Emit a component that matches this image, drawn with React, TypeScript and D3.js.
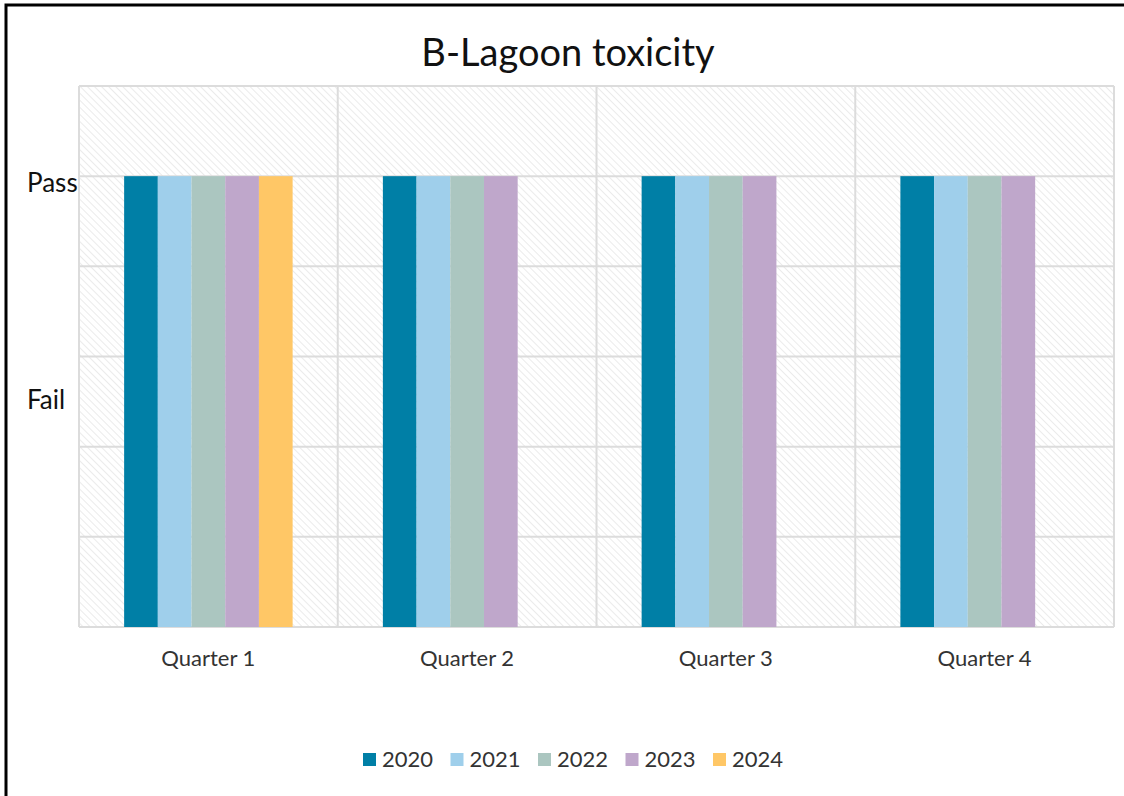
import React from 'react';
import * as d3 from 'd3';

const quarters = ['Quarter 1', 'Quarter 2', 'Quarter 3', 'Quarter 4'];
const years = ['2020', '2021', '2022', '2023', '2024'];
// 5 = Pass, 0 = no result
const values2020 = [5, 5, 5, 5];
const values2021 = [5, 5, 5, 5];
const values2022 = [5, 5, 5, 5];
const values2023 = [5, 5, 5, 5];
const values2024 = [5, 0, 0, 0];
const seriesValues = [values2020, values2021, values2022, values2023, values2024];
const yearColors = ['#007FA6', '#9FCFEB', '#ABC6C0', '#BFA7CB', '#FFC766'];
const yTickLabels = ['Pass', 'Fail'];
const yTickValues = [5, 2.6];

const W = 1124;
const H = 796;
const margin = { top: 86, right: 10, bottom: 169, left: 79 };
const font = 'Lato, "Open Sans", sans-serif';

export default function App() {
  const innerW = W - margin.left - margin.right;
  const innerH = H - margin.top - margin.bottom;

  const x = d3.scaleBand<string>().domain(quarters).range([0, innerW]).paddingInner(0).paddingOuter(0);
  const xInner = d3
    .scaleBand<string>()
    .domain(years)
    .range([0, x.bandwidth()])
    .paddingOuter(45 / 33.6)
    .paddingInner(0);
  const y = d3.scaleLinear().domain([0, 6]).range([innerH, 0]);
  const gridTicks = d3.range(0, 7);

  const legendStep = 87.5;
  const legendStart = 363;

  return (
    <svg
      width={W}
      height={H}
      style={{ position: 'absolute', left: 0, top: 0, background: '#fff' }}
      fontFamily={font}
    >
      <defs>
        <pattern id="hatch" width="5" height="5" patternUnits="userSpaceOnUse" patternTransform="rotate(-45)">
          <line x1="0" y1="0" x2="0" y2="5" stroke="#e6e6e6" strokeWidth="1.6" />
        </pattern>
      </defs>
      <rect x={6} y={5} width={W} height={H} fill="#fff" stroke="#000" strokeWidth={3} />

      <text x={568} y={66} textAnchor="middle" fontSize={38} fill="#111">
        B-Lagoon toxicity
      </text>

      <g transform={`translate(${margin.left},${margin.top})`}>
        <rect x={0} y={0} width={innerW} height={innerH} fill="url(#hatch)" />
        {gridTicks.map(t => (
          <line key={'h' + t} x1={0} x2={innerW} y1={y(t)} y2={y(t)} stroke="#dcdcdc" strokeWidth={2} />
        ))}
        {[...quarters, 'end'].map((q, i) => {
          const xx = i < quarters.length ? (x(q) as number) : innerW;
          return <line key={'v' + i} x1={xx} x2={xx} y1={0} y2={innerH} stroke="#dcdcdc" strokeWidth={2} />;
        })}

        {quarters.map((q, qi) => (
          <g key={q} transform={`translate(${x(q)},0)`}>
            {years.map((yr, si) => {
              const v = seriesValues[si][qi];
              if (!v) return null;
              return (
                <rect
                  key={yr}
                  x={xInner(yr)}
                  y={y(v)}
                  width={xInner.bandwidth()}
                  height={innerH - y(v)}
                  fill={yearColors[si]}
                />
              );
            })}
          </g>
        ))}

        {yTickValues.map((v, i) => (
          <text key={yTickLabels[i]} x={27 - margin.left} y={y(v) + 16} textAnchor="start" fontSize={26} fill="#111">
            {yTickLabels[i]}
          </text>
        ))}

        {quarters.map(q => (
          <text
            key={q}
            x={(x(q) as number) + x.bandwidth() / 2}
            y={innerH + 39}
            textAnchor="middle"
            fontSize={22}
            fill="#333"
          >
            {q}
          </text>
        ))}
      </g>

      <g>
        {years.map((yr, i) => (
          <g key={yr} transform={`translate(${legendStart + i * legendStep},0)`}>
            <rect x={0} y={753} width={13} height={13} fill={yearColors[i]} />
            <text x={19} y={767} fontSize={22} fill="#333">
              {yr}
            </text>
          </g>
        ))}
      </g>
    </svg>
  );
}
